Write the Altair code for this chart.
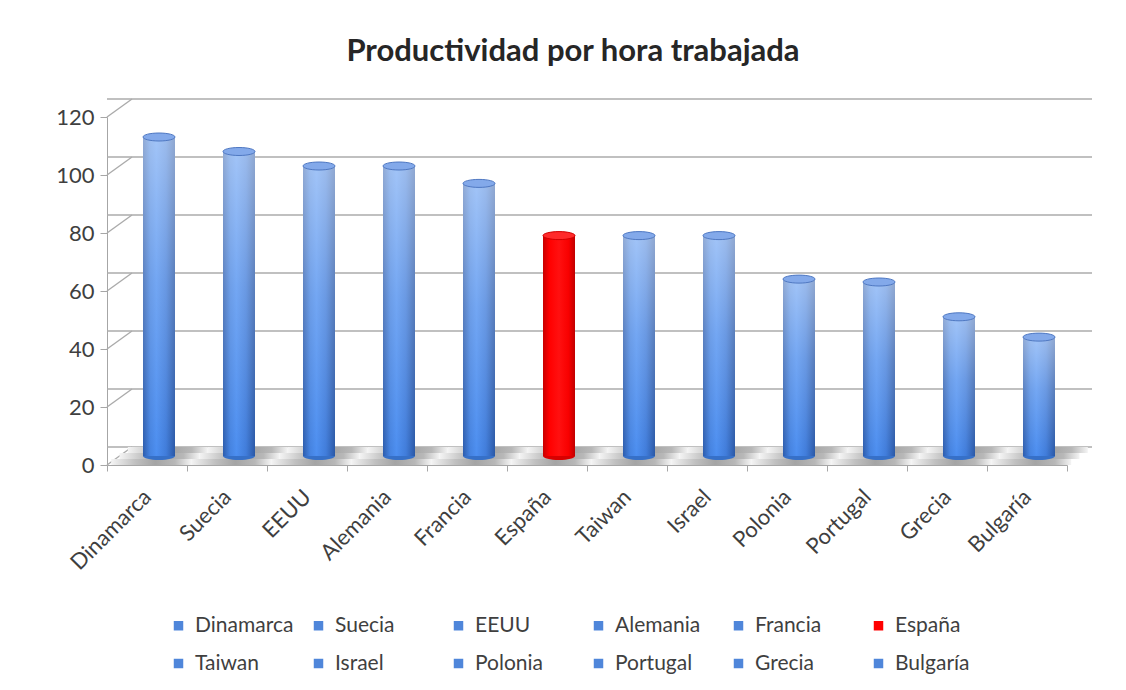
import altair as alt
import pandas as pd

countries = ["Dinamarca", "Suecia", "EEUU", "Alemania", "Francia", "España",
             "Taiwan", "Israel", "Polonia", "Portugal", "Grecia", "Bulgaría"]
values = [110, 105, 100, 100, 94, 76, 76, 76, 61, 60, 48, 41]
highlight = "España"
bar_colors = ["#FF0000" if c == highlight else "#4F86DA" for c in countries]
y_ticks = [0, 20, 40, 60, 80, 100, 120]

df = pd.DataFrame({"country": countries, "value": values})
ticks_df = pd.DataFrame({"value": y_ticks})

FONT = "Lato"
TXT = "#3F3F3F"
DX, DY = 25, -18          # 3-D depth offset of the back wall (px)
MX, MY = 12, -9           # cylinders sit at mid depth
BW = 32                   # cylinder width
ELLIPSE = "M -1 0 A 1 0.25 0 1 0 1 0 A 1 0.25 0 1 0 -1 0 Z"

xscale = alt.Scale(type="band", domain=countries, paddingInner=0, paddingOuter=0)
yscale = alt.Scale(domain=[0, 120], nice=False)

X = alt.X("country:N", scale=xscale, sort=countries,
          axis=alt.Axis(labelAngle=-45, tickBand="extent", title=None,
                        domainColor="#A6A6A6", tickColor="#A6A6A6", tickSize=6,
                        labelPadding=22, labelAlign="right",
                        labelBaseline="middle", labelFontSize=22,
                        labelColor=TXT, labelFont=FONT))
yaxis = alt.Axis(values=y_ticks, grid=False, title=None,
                 domainColor="#A6A6A6", tickColor="#A6A6A6", tickSize=7,
                 labelPadding=6, labelFontSize=22, labelColor=TXT,
                 labelFont=FONT)
Y = alt.Y("value:Q", scale=yscale, axis=yaxis)

base = alt.Chart(df)

# back wall gridlines
grid = alt.Chart(ticks_df).mark_rule(
    color="#ABABAB", strokeWidth=1.6, xOffset=DX, x2Offset=DX - 2, yOffset=DY
).encode(y=Y)

# side-wall connectors
conn = alt.Chart(ticks_df).mark_rule(
    color="#ABABAB", strokeWidth=1.4, x2Offset=DX, y2Offset=DY
).encode(x=alt.value(0), x2=alt.value(0), y=Y, y2="value:Q")

# floor (three depth strips, per category tile)
floor_grad = alt.Gradient(
    gradient="linear",
    stops=[alt.GradientStop(color="#F4F4F4", offset=0),
           alt.GradientStop(color="#C0C0C0", offset=0.3),
           alt.GradientStop(color="#A4A4A4", offset=0.55),
           alt.GradientStop(color="#B8B8B8", offset=0.8),
           alt.GradientStop(color="#F4F4F4", offset=1)],
    x1=0, x2=1, y1=0, y2=0)
floors = []
for k in range(3):
    floors.append(base.mark_rect(
        fill=floor_grad, xOffset=DX * (k + 0.5) / 3,
        yOffset=DY * k / 3, y2Offset=DY * (k + 1) / 3
    ).encode(x=X, y=alt.Y(datum=0, scale=yscale), y2=alt.Y2(datum=0)))

base_ell = base.mark_point(shape=ELLIPSE, size=BW * BW, filled=True, opacity=1,
                           xOffset=MX, yOffset=MY).encode(
    x=X, y=alt.Y(datum=0, scale=yscale),
    fill=alt.condition(alt.datum.country == highlight,
                       alt.value("#D80000"), alt.value("#3670C8")))

bars = base.mark_bar(width=BW, xOffset=MX, yOffset=MY, y2Offset=MY).encode(
    x=X, y=Y,
    color=alt.Color("country:N",
                    scale=alt.Scale(domain=countries, range=bar_colors),
                    legend=alt.Legend(orient="none", legendX=61, legendY=498,
                                      direction="horizontal",
                                      columns=6, symbolType="square",
                                      symbolSize=90, symbolStrokeWidth=0,
                                      labelFontSize=21, labelFont=FONT,
                                      labelColor=TXT, title=None,
                                      gridAlign="all", columnPadding=14,
                                      rowPadding=16, labelOffset=6,
                                      padding=0)))

blue_grad = alt.Gradient(
    gradient="linear",
    stops=[alt.GradientStop(color="#2C5CAD", offset=0),
           alt.GradientStop(color="#4482E0", offset=0.22),
           alt.GradientStop(color="#4C8EF0", offset=0.42),
           alt.GradientStop(color="#407CDA", offset=0.72),
           alt.GradientStop(color="#2A58A6", offset=1)],
    x1=0, x2=1, y1=0, y2=0)
red_grad = alt.Gradient(
    gradient="linear",
    stops=[alt.GradientStop(color="#C80000", offset=0),
           alt.GradientStop(color="#FF0000", offset=0.2),
           alt.GradientStop(color="#FF1010", offset=0.5),
           alt.GradientStop(color="#F80000", offset=0.8),
           alt.GradientStop(color="#C00000", offset=1)],
    x1=0, x2=1, y1=0, y2=0)
sheen = alt.Gradient(
    gradient="linear",
    stops=[alt.GradientStop(color="rgba(255,255,255,0.48)", offset=0),
           alt.GradientStop(color="rgba(255,255,255,0.22)", offset=0.45),
           alt.GradientStop(color="rgba(255,255,255,0.0)", offset=1)],
    x1=0, x2=0, y1=0, y2=1)

blue_over = base.transform_filter(alt.datum.country != highlight).mark_bar(
    width=BW, xOffset=MX, yOffset=MY, y2Offset=MY, fill=blue_grad
).encode(x=X, y=Y)
red_over = base.transform_filter(alt.datum.country == highlight).mark_bar(
    width=BW, xOffset=MX, yOffset=MY, y2Offset=MY, fill=red_grad
).encode(x=X, y=Y)
sheen_over = base.transform_filter(alt.datum.country != highlight).mark_bar(
    width=BW, xOffset=MX, yOffset=MY, y2Offset=MY, fill=sheen
).encode(x=X, y=Y)

caps = base.mark_point(shape=ELLIPSE, size=BW * BW, filled=True, opacity=1,
                       xOffset=MX, yOffset=MY, strokeWidth=1).encode(
    x=X, y=Y,
    fill=alt.condition(alt.datum.country == highlight,
                       alt.value("#FF2A2A"), alt.value("#83A9EA")),
    stroke=alt.condition(alt.datum.country == highlight,
                         alt.value("#D00000"), alt.value("#4F78C2")))

chart = alt.layer(
    grid, conn, *floors, base_ell, bars, blue_over, red_over, sheen_over, caps
).properties(
    width=960, height=348,
    title=alt.Title("Productividad por hora trabajada", fontSize=31,
                    font=FONT, fontWeight="bold", color="#262626",
                    anchor="middle", dx=-14, offset=30, frame="group"),
    padding={"left": 99, "top": 109, "right": 50, "bottom": 213},
    autosize=alt.AutoSizeParams(type="none"),
).configure(
    background="white",
    view=alt.ViewConfig(stroke="transparent", strokeWidth=0),
)

chart.save("out.html", embed_options={"renderer": "svg", "actions": False})
